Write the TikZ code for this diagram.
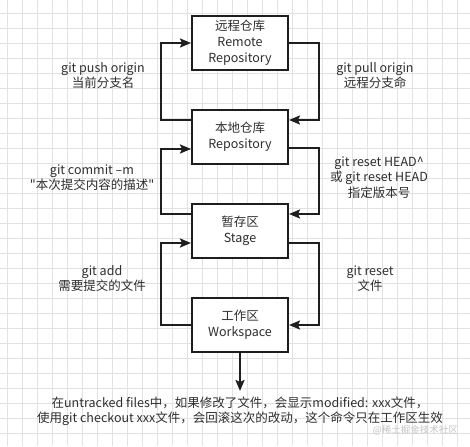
\documentclass[tikz,border=0pt]{standalone}
\usepackage{fontspec}
\setmainfont{Noto Sans CJK SC}
\newfontfamily\plainf{Noto Sans CJK SC}
\usetikzlibrary{arrows.meta}
\definecolor{txt}{HTML}{2E2E2E}
\definecolor{ln}{HTML}{1E1E1E}
\definecolor{gridc}{HTML}{E2E2E2}
\definecolor{wm}{HTML}{C4C4C4}
\tikzset{
  box/.style={draw=ln, line width=2pt, minimum width=96pt, minimum height=54pt, inner sep=0pt, align=center, text=txt, fill=white,
    font=\fontsize{12.5}{16}\selectfont},
  lbl/.style={align=center, text=txt, inner sep=0pt, font=\fontsize{12.5}{15.5}\selectfont},
  conn/.style={draw=ln, line width=2pt, -{Stealth[length=11pt,width=9pt,inset=2pt]}},
}
\begin{document}
\begin{tikzpicture}[x=1pt,y=-1pt]
\useasboundingbox (0,0) rectangle (470,446);
\fill[white] (0,0) rectangle (470,446);
\foreach \gx in {7.5,22.5,...,470} \draw[gridc, line width=0.7pt] (\gx,0) -- (\gx,446);
\foreach \gy in {13.5,28.5,...,446} \draw[gridc, line width=0.7pt] (0,\gy) -- (470,\gy);

\node[box] (remote) at (240,43) {远程仓库\\Remote\\Repository};
\node[box] (local) at (240,137) {本地仓库\\Repository};
\node[box] (stage) at (240,231) {暂存区\\Stage};
\node[box] (work) at (240,325) {工作区\\Workspace};

\draw[conn] ([yshift=17pt]local.west) -- ++(-30,0) |- (remote.west);
\draw[conn] (remote.east) -- ++(30,0) |- ([yshift=17pt]local.east);
\draw[conn] ([yshift=17pt]stage.west) -- ++(-30,0) |- ([yshift=-12pt]local.west);
\draw[conn] ([yshift=-11pt]local.east) -- ++(30,0) |- ([yshift=17pt]stage.east);
\draw[conn] (work.west) -- ++(-30,0) |- ([yshift=-12pt]stage.west);
\draw[conn] ([yshift=-12pt]stage.east) -- ++(30,0) |- (work.east);
\coordinate (tip) at (240,391);
\draw[conn] (work.south) -- (tip);

\node[lbl] (lpush) at (103,75.5) {git push origin\\当前分支名};
\node[lbl] (lpull) at (375,75.5) {git pull origin\\远程分支命};
\node[lbl] (lcommit) at (92,177.5) {git commit –m\\{\plainf"}本次提交内容的描述{\plainf"}};
\node[lbl] (lresethead) at (379,177.5) {git reset HEAD\textasciicircum\\或 git reset HEAD\\指定版本号};
\node[lbl] (ladd) at (102,278.5) {git add\\需要提交的文件};
\node[lbl] (lreset) at (370,278.5) {git reset\\文件};
\node[lbl] (note) at (240,411.5) {在untracked files中，如果修改了文件，会显示modified: xxx文件，\\使用git checkout xxx文件，会回滚这次的改动，这个命令只在工作区生效};
\node[text=wm, inner sep=0pt, font=\fontsize{9.5}{11}\selectfont, anchor=east] (wmark) at (458,430) {@稀土掘金技术社区};
\end{tikzpicture}
\end{document}
